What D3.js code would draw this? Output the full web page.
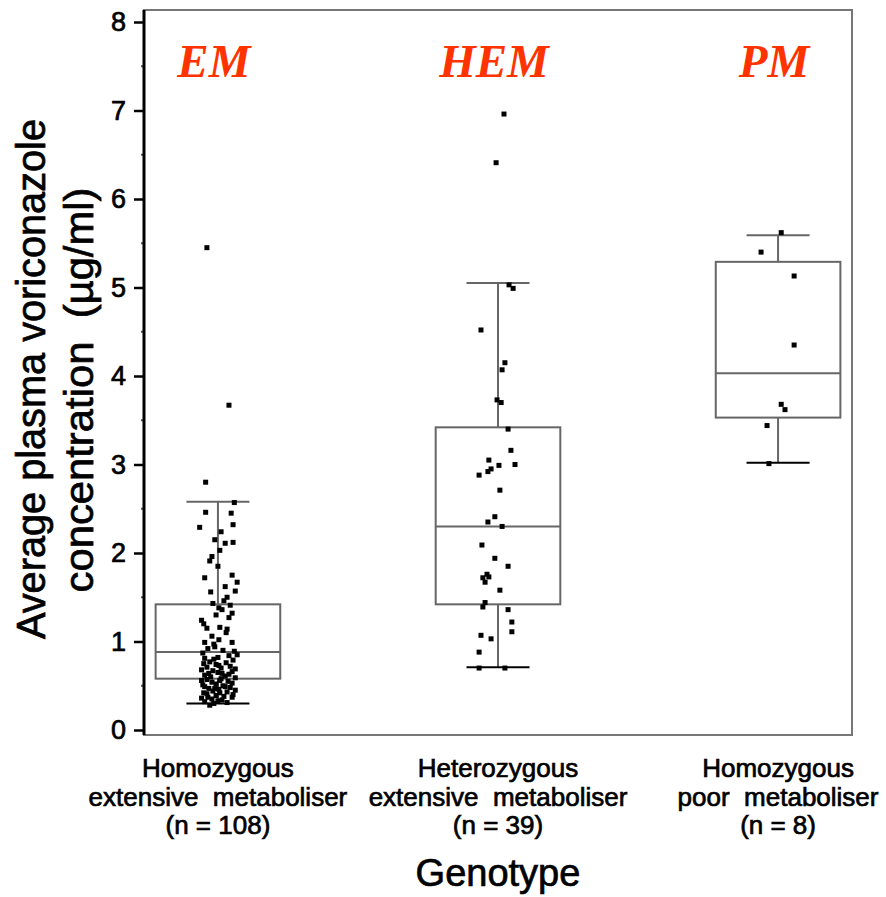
<!DOCTYPE html>
<html>
<head>
<meta charset="utf-8">
<script src="https://cdn.jsdelivr.net/npm/d3@7"></script>
<style>
  body { margin: 0; background: #fff; }
  text { font-family: "Liberation Sans", Arial, sans-serif; fill: #000; }
  .heavy { stroke: #000; stroke-width: 0.7px; }
</style>
</head>
<body>
<div id="chart-area"></div>
<script>
// categories and labels
var categories = ["EM", "HEM", "PM"];
var groupLine1 = ["Homozygous", "Heterozygous", "Homozygous"];
var groupLine2 = ["extensive  metaboliser", "extensive  metaboliser", "poor  metaboliser"];
var groupLine3 = ["(n = 108)", "(n = 39)", "(n = 8)"];
var yTicks = [0, 1, 2, 3, 4, 5, 6, 7, 8];
var yMinorTicks = [0.5, 1.5, 2.5, 3.5, 4.5, 5.5, 6.5, 7.5];

// box statistics (ug/ml)
var whiskerLow  = [0.30, 0.71, 3.02];
var quart1      = [0.58, 1.42, 3.53];
var medians     = [0.88, 2.30, 4.03];
var quart3      = [1.42, 3.42, 5.29];
var whiskerHigh = [2.58, 5.05, 5.59];

// points: [value, jitter]  (jitter -1..1 = half the cap width)
var emPoints = [
  [5.45,-0.35],[3.67,0.35],[2.80,-0.39],[2.57,0.52],[2.46,-0.39],[2.45,0.42],[2.32,0.48],[2.29,-0.58],
  [2.15,-0.10],[2.11,0.23],[2.12,0.48],[2.03,0.06],[1.96,-0.19],[1.91,-0.26],[1.72,-0.42],[1.75,0.45],
  [1.67,0.61],[1.62,0.23],[1.56,-0.23],[1.57,0.55],[1.43,-0.16],[1.46,0.19],[1.41,0.39],[1.32,0.45],
  [1.36,0.13],[1.24,-0.52],[1.20,-0.45],[1.15,-0.35],[1.16,0.06],[1.14,0.29],[1.06,-0.19],[0.99,-0.42],
  [0.99,0.45],[0.94,-0.10],[0.89,0.52],[0.85,0.61],[0.81,-0.42],[0.77,-0.26],[0.73,0.03],[0.69,0.55],
  [0.68,-0.52],[0.64,-0.29],[0.64,0.13],[0.63,0.35],[0.56,-0.52],[0.54,-0.19],[0.56,0.06],[0.53,0.45],
  [0.49,-0.42],[0.47,-0.10],[0.49,0.23],[0.45,0.55],[0.41,-0.35],[0.42,0.06],[0.37,0.45],[0.35,-0.19],
  [0.36,-0.52],[0.34,0.13],[0.28,-0.26],
  [0.92,-0.32],[0.90,0.16],[0.87,-0.48],[0.84,0.35],[0.82,0.00],[0.80,-0.13],[0.79,0.48],[0.76,0.26],
  [0.75,-0.45],[0.74,-0.06],[0.72,0.39],[0.71,-0.35],[0.70,0.10],[0.67,-0.16],[0.66,0.45],[0.65,0.00],
  [0.62,-0.42],[0.61,0.23],[0.60,-0.23],[0.59,0.55],[0.58,0.10],[0.57,-0.35],[0.55,0.32],[0.52,-0.06],
  [0.51,-0.48],[0.50,0.16],[0.48,0.39],[0.47,-0.29],[0.46,0.03],[0.44,-0.16],[0.43,0.29],[0.42,-0.45],
  [0.40,0.48],[0.39,-0.06],[0.38,0.19],[0.37,-0.32],[0.33,0.00],[0.32,-0.42],[0.31,0.29],[0.30,-0.13],
  [1.02,0.03],[1.10,0.26],[1.27,0.35],[1.30,-0.06],[1.38,0.03],[1.50,0.29],[1.85,0.00],[2.24,0.10],
  [0.97,-0.13]
];
var hemPoints = [
  [6.96,0.19],[6.41,-0.06],[5.03,0.35],[4.99,0.48],[4.52,-0.54],[4.15,0.22],[4.07,0.13],[3.73,-0.03],
  [3.70,0.10],[3.40,0.32],[3.16,0.41],[3.05,-0.29],[2.99,0.03],[3.00,0.54],[2.92,-0.32],[2.88,-0.60],
  [2.71,0.06],[2.41,-0.10],[2.35,-0.32],[2.30,0.13],[2.09,-0.51],[1.94,-0.10],[1.85,0.32],[1.73,-0.29],
  [1.72,-0.48],[1.67,-0.41],[1.58,0.06],[1.44,-0.41],[1.39,-0.48],[1.36,0.32],[1.22,0.44],[1.11,0.44],
  [1.07,-0.54],[1.03,-0.22],[0.88,-0.60],[0.70,-0.60],[0.70,0.22],[2.95,-0.22],[1.76,-0.35]
];
var pmPoints = [
  [5.62,0.10],[5.40,-0.54],[5.13,0.51],[4.35,0.51],[3.68,0.10],[3.62,0.22],[3.44,-0.35],[3.01,-0.29]
];
var allPoints = [emPoints, hemPoints, pmPoints];

var width = 886;
var height = 897;
var plot = {left: 144, right: 852, top: 10, bottom: 735};

var svg = d3.select("#chart-area").append("svg").attr("width", width).attr("height", height);

// Scales
var x = d3.scalePoint().domain(categories).range([plot.left, plot.right]).padding(0.264);
var y = d3.scaleLinear().domain([0, 8]).range([730, 22]);

var boxW = x.step() * 0.445;
var capW = x.step() * 0.225;

// frame
svg.append("rect").attr("x", plot.left).attr("y", plot.top)
  .attr("width", plot.right - plot.left).attr("height", plot.bottom - plot.top)
  .attr("fill", "none").attr("stroke", "#777").attr("stroke-width", 2);

// boxes
var boxes = svg.append("g").attr("class", "boxes");
categories.forEach(function(c, i) {
  var cx = x(c);
  var g = boxes.append("g").attr("stroke", "#666").attr("stroke-width", 2).attr("fill", "none");
  g.append("line").attr("x1", cx).attr("x2", cx).attr("y1", y(whiskerHigh[i])).attr("y2", y(quart3[i]));
  g.append("line").attr("x1", cx).attr("x2", cx).attr("y1", y(quart1[i])).attr("y2", y(whiskerLow[i]));
  g.append("line").attr("x1", cx - capW / 2).attr("x2", cx + capW / 2).attr("y1", y(whiskerHigh[i])).attr("y2", y(whiskerHigh[i]));
  g.append("line").attr("x1", cx - capW / 2).attr("x2", cx + capW / 2).attr("y1", y(whiskerLow[i])).attr("y2", y(whiskerLow[i]))
    .attr("stroke", "#000");
  g.append("rect").attr("x", cx - boxW / 2).attr("y", y(quart3[i]))
    .attr("width", boxW).attr("height", y(quart1[i]) - y(quart3[i]));
  g.append("line").attr("x1", cx - boxW / 2).attr("x2", cx + boxW / 2).attr("y1", y(medians[i])).attr("y2", y(medians[i]));
});

// points
var jit = d3.scaleLinear().domain([-1, 1]).range([-capW / 2, capW / 2]);
categories.forEach(function(c, i) {
  svg.append("g").selectAll("rect").data(allPoints[i]).enter().append("rect")
    .attr("x", function(d) { return x(c) + jit(d[1]) - 2.5; })
    .attr("y", function(d) { return y(d[0]) - 2.5; })
    .attr("width", 5).attr("height", 5).attr("fill", "#000");
});

// y axis
var yAxisGroup = svg.append("g").attr("transform", "translate(" + plot.left + ",0)");
yAxisGroup.call(d3.axisLeft(y).tickValues(yTicks).tickSize(10).tickPadding(8).tickFormat(d3.format("d")));
yAxisGroup.select(".domain").remove();
yAxisGroup.selectAll(".tick line").attr("stroke", "#000").attr("stroke-width", 2.5);
yAxisGroup.selectAll(".tick text").attr("class", "heavy").attr("font-size", "27px")
  .attr("font-family", "Liberation Sans, Arial, sans-serif").attr("fill", "#000");
yAxisGroup.selectAll(".minor").data(yMinorTicks).enter().append("line").attr("class", "minor")
  .attr("x1", -3).attr("x2", 0).attr("y1", function(d) { return y(d); }).attr("y2", function(d) { return y(d); })
  .attr("stroke", "#555").attr("stroke-width", 2);
svg.append("line").attr("x1", plot.left).attr("x2", plot.left).attr("y1", plot.top).attr("y2", plot.bottom)
  .attr("stroke", "#000").attr("stroke-width", 3);

// group titles
svg.append("g").selectAll("text").data(categories).enter().append("text")
  .attr("x", function(d) { return x(d) - 4; }).attr("y", 77)
  .attr("text-anchor", "middle")
  .style("font-family", "'Liberation Serif', 'Times New Roman', serif")
  .style("font-weight", "bold").style("font-style", "italic").style("font-size", "47px")
  .style("fill", "#ff3300").text(function(d) { return d; });

// category labels
var catLabels = svg.append("g").attr("class", "heavy").attr("font-size", "26px").attr("text-anchor", "middle");
categories.forEach(function(c, i) {
  var t = catLabels.append("text").attr("x", x(c)).attr("y", 777).attr("xml:space", "preserve");
  t.append("tspan").attr("x", x(c)).attr("dy", 0).text(groupLine1[i]);
  t.append("tspan").attr("x", x(c)).attr("dy", 29).text(groupLine2[i]);
  t.append("tspan").attr("x", x(c)).attr("dy", 28).text(groupLine3[i]);
});

// axis titles
svg.append("text").attr("class", "heavy").attr("x", x("HEM")).attr("y", 886).attr("text-anchor", "middle")
  .attr("font-size", "38px").text("Genotype");

svg.append("text").attr("class", "heavy").attr("transform", "translate(45,379) rotate(-90)").attr("text-anchor", "middle")
  .attr("font-size", "40px").attr("textLength", 520).attr("lengthAdjust", "spacingAndGlyphs")
  .text("Average plasma voriconazole");
svg.append("text").attr("class", "heavy").attr("transform", "translate(93,390) rotate(-90)").attr("text-anchor", "middle")
  .attr("font-size", "40px").attr("textLength", 405).attr("lengthAdjust", "spacingAndGlyphs")
  .attr("xml:space", "preserve")
  .text("concentration  (\u00b5g/ml)");
</script>
</body>
</html>
